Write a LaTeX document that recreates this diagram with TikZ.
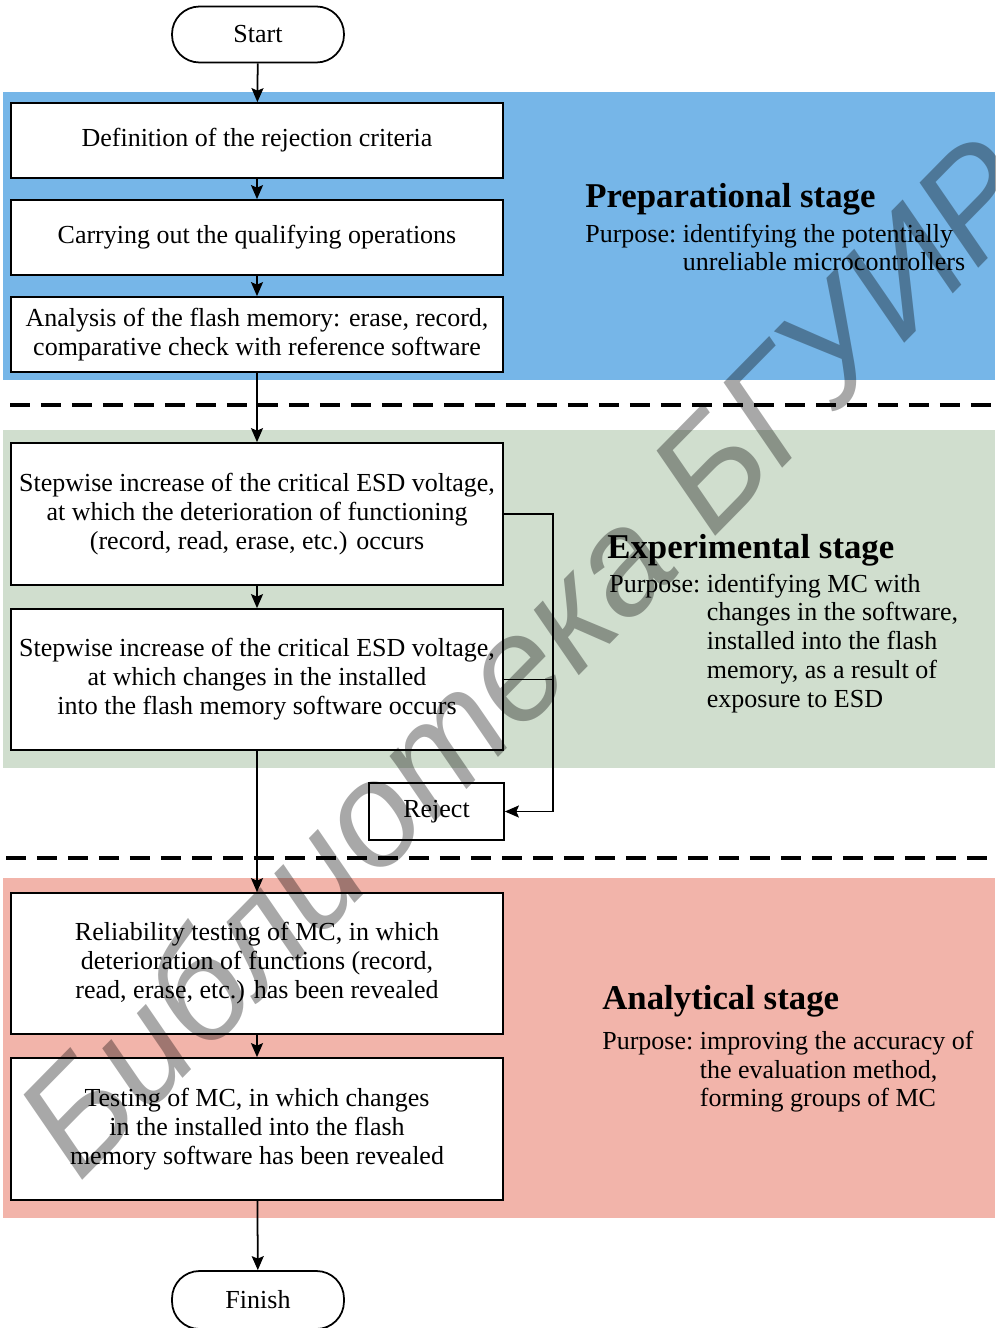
\documentclass[tikz,border=0pt]{standalone}
\usepackage{fontspec}
\setmainfont{Liberation Serif}
\newfontfamily\wmfont{Liberation Sans}
\usetikzlibrary{arrows.meta}

\definecolor{prepblue}{RGB}{118,182,232}
\definecolor{expgreen}{RGB}{208,222,206}
\definecolor{anapink}{RGB}{242,180,170}

\newcommand\flowtext{\fontsize{14.8}{16.5}\selectfont}
\newcommand\stagehead{\fontsize{19.8}{22}\selectfont\bfseries}

\begin{document}
\begin{tikzpicture}[x=0.02cm,y=-0.02cm,
  stepbox/.style={draw, line width=1pt, fill=white, inner sep=0pt,
    minimum width=9.84cm, align=center, font=\flowtext},
  terminal/.style={draw, line width=1pt, fill=white, inner sep=0pt,
    minimum width=3.44cm, minimum height=1.12cm, rounded corners=0.55cm,
    font=\flowtext},
  flow/.style={line width=1pt, -{Stealth[length=0.28cm,width=0.24cm,inset=0.05cm]}},
  link/.style={line width=1pt},
  divider/.style={line width=1.8pt, dash pattern=on 0.4cm off 0.22cm},
  band/.style={draw=none},
  head/.style={anchor=base west, inner sep=0pt, font=\stagehead},
  purpose/.style={anchor=base west, inner sep=0pt, font=\flowtext}
]
\clip (0,0) rectangle (995,1328);
\fill[white] (0,0) rectangle (995,1328);

% coloured stage bands
\fill[band, prepblue] (3,92) rectangle (995,380);
\fill[band, expgreen] (3,430) rectangle (995,768);
\fill[band, anapink] (3,878) rectangle (995,1218);

% stage separators
\draw[divider] (10,405) -- (995,405);
\draw[divider] (6,858) -- (995,858);

% flowchart nodes
\node[terminal] (start) at (258,34.5) {Start};
\node[stepbox, minimum height=1.5cm] (b1) at (257,140.5) {Definition of the rejection criteria};
\node[stepbox, minimum height=1.5cm] (b2) at (257,237.5) {Carrying out the qualifying operations};
\node[stepbox, minimum height=1.5cm] (b3) at (257,334.5) {Analysis of the flash memory: erase, record,\\comparative check with reference software};
\node[stepbox, minimum height=2.84cm] (b4) at (257,514) {Stepwise increase of the critical ESD voltage,\\at which the deterioration of functioning\\(record, read, erase, etc.) occurs};
\node[stepbox, minimum height=2.82cm] (b5) at (257,679.5) {Stepwise increase of the critical ESD voltage,\\at which changes in the installed\\into the flash memory software occurs};
\node[stepbox, minimum width=2.7cm, minimum height=1.14cm] (rej) at (436.5,811.5) {Reject};
\node[stepbox, minimum height=2.82cm] (b6) at (257,963.5) {Reliability testing of MC, in which\\deterioration of functions (record,\\read, erase, etc.) has been revealed};
\node[stepbox, minimum height=2.84cm] (b7) at (257,1129) {Testing of MC, in which changes\\in the installed into the flash\\memory software has been revealed};
\node[terminal, minimum height=1.16cm] (finish) at (258,1300) {Finish};

% main flow
\draw[flow] (start) -- (b1);
\draw[flow] (b1) -- (b2);
\draw[flow] (b2) -- (b3);
\draw[flow] (b3) -- (b4);
\draw[flow] (b4) -- (b5);
\draw[flow] (b5) -- (b6);
\draw[flow] (b6) -- (b7);
\draw[flow] (b7) -- (finish);

% rejection branch
\coordinate (fb) at (553,514);
\draw[flow] (b4.east) -- (fb) |- (rej.east);
\draw[link] (b5.east) -- (fb |- b5.east);

% stage descriptions
\node[head] (h1) at (585,207) {Preparational stage};
\node[purpose] (p1) at (585,242) {\begin{tabular}[t]{@{}l@{\ }l@{}}Purpose:&identifying the potentially\\&unreliable microcontrollers\end{tabular}};
\node[head] (h2) at (607,558) {Experimental stage};
\node[purpose] (p2) at (609,592) {\begin{tabular}[t]{@{}l@{\ }l@{}}Purpose:&identifying MC with\\&changes in the software,\\&installed into the flash\\&memory, as a result of\\&exposure to ESD\end{tabular}};
\node[head] (h3) at (602,1009) {Analytical stage};
\node[purpose] (p3) at (602,1049) {\begin{tabular}[t]{@{}l@{\ }l@{}}Purpose:&improving the accuracy of\\&the evaluation method,\\&forming groups of MC\end{tabular}};

% library stamp
\node[rotate=45.5, text=black, text opacity=0.34, inner sep=0pt,
  font=\wmfont\itshape\fontsize{84}{84}\selectfont] (stamp) at (524,655) {Библиотека БГУИР};
\end{tikzpicture}
\end{document}
